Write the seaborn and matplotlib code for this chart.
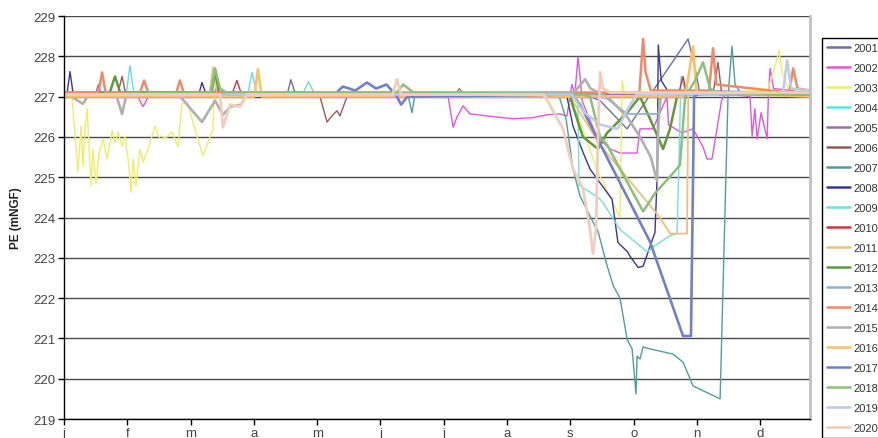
import matplotlib
matplotlib.use("Agg")
import matplotlib.pyplot as plt
import seaborn as sns
import pandas as pd
import numpy as np

sns.set_theme(style="white")
plt.rcParams['font.family'] = ['Liberation Sans', 'DejaVu Sans']

# Water level PE (mNGF) by day of year, one series per year
month_labels = ["j", "f", "m", "a", "m", "j", "j", "a", "s", "o", "n", "d"]
years = [str(y) for y in range(2001, 2021)]

day_2001 = [0, 40, 90, 107.5, 109, 111, 200, 252.8, 257.6, 270.6, 286.4, 299.9, 303.3, 305.7, 330, 358.5]
pe_2001 = [227.10, 227.12, 227.10, 227.10, 227.42, 227.10, 227.05, 227.0, 226.9, 226.2, 227.4, 228.43, 227.7, 227.05, 227.10, 227.08]

day_2002 = [0, 35, 38, 41, 72, 73, 75, 180, 184.6, 187.0, 188.9, 191.8, 195.1, 203.3, 215.8, 225.4, 232.1,
            238.4, 241.7, 244.1, 245.5, 247.0, 248.0, 249.0, 252, 256.2, 262.4, 267.2, 275.4, 276.8, 283,
            289.8, 290.5, 297.0, 302.3, 307.1, 309.0, 311.4, 313.8, 316, 318, 322, 329.7, 330.7, 332,
            333.1, 335, 337.9, 338.5, 339.3, 341, 358.5]
pe_2002 = [227.05, 227.05, 226.75, 227.05, 227.05, 227.2, 227.05, 227.02, 227.0, 226.24, 226.5, 226.77, 226.57,
           226.52, 226.45, 226.48, 226.55, 226.57, 226.52, 227.3, 227.05, 227.98, 227.5, 226.9, 226.5, 226.0,
           225.7, 225.6, 225.6, 226.2, 226.2, 227.0, 226.3, 226.1, 226.2, 225.75, 225.45, 225.45, 226.2,
           226.9, 227.1, 227.05, 227.0, 226.02, 226.7, 225.95, 226.6, 225.95, 227.0, 227.7, 227.2, 227.1]

day_2003 = [0, 3.8, 6.7, 8.2, 9.1, 10.1, 11.1, 13.0, 13.9, 15.4, 16.8, 18.7, 20.7, 23.1, 24.5, 26.0, 27.9,
            29.3, 30.8, 32.2, 33.2, 34.6, 36.5, 38.0, 40.4, 43.7, 46.1, 49.5, 51.9, 53.3, 54.8, 56.7, 59.1,
            61.5, 63.9, 66.8, 69.2, 71.6, 72.1, 74, 240, 246.5, 256, 267.2, 268.2, 269.5, 300, 338, 342,
            343.6, 345, 348, 358.5]
pe_2003 = [227.05, 227.0, 225.13, 226.27, 225.28, 226.2, 226.7, 224.78, 225.7, 224.83, 225.6, 225.95, 225.45,
           226.15, 225.87, 226.12, 225.77, 226.02, 225.45, 224.63, 225.45, 224.78, 225.7, 225.38, 225.7,
           226.27, 225.95, 226.0, 226.12, 225.95, 225.75, 226.82, 226.87, 226.45, 226.02, 225.53, 225.87,
           226.2, 227.0, 227.05, 227.05, 226.6, 225.2, 224.0, 227.4, 227.05, 227.1, 227.15, 227.8, 228.15,
           227.6, 227.2, 227.1]

day_2004 = [0, 30, 31.7, 33.5, 88.5, 90.4, 92.5, 115, 117.5, 120, 358.5]
pe_2004 = [227.08, 227.1, 227.77, 227.1, 227.1, 227.6, 227.1, 227.1, 227.37, 227.1, 227.08]

day_2005 = [0, 15, 16.5, 18, 188, 190, 192, 358.5]
pe_2005 = [227.05, 227.05, 227.3, 227.05, 227.05, 227.2, 227.05, 227.05]

day_2006 = [0, 26, 27.9, 29.5, 122, 123, 126.4, 128.8, 131.2, 132.6, 136, 138, 312, 314.3, 316, 358.5]
pe_2006 = [227.1, 227.1, 227.5, 227.1, 227.05, 227.0, 226.37, 226.52, 226.65, 226.52, 227.0, 227.05, 227.1,
           227.85, 227.1, 227.05]

day_2007 = [0, 160, 165.5, 167.2, 168.5, 238, 241.3, 244.6, 248.0, 255.2, 256.6, 261.0, 264.0, 267.2, 270.6,
            273.0, 274.9, 275.4, 276.8, 278.3, 281.6, 292.7, 297.5, 302.3, 315.3, 319.1, 321.0, 322.5, 325,
            358.5]
pe_2007 = [227.05, 227.05, 227.0, 226.6, 227.0, 227.0, 226.44, 225.2, 224.53, 223.79, 223.66, 222.8, 222.3,
           222.0, 220.98, 220.74, 219.62, 220.56, 220.49, 220.79, 220.74, 220.61, 220.41, 219.82, 219.5,
           227.0, 228.25, 227.3, 227.1, 227.05]

day_2008 = [0, 1.5, 2.9, 4.3, 65, 66.3, 68, 240, 241.7, 244.6, 249.4, 252.8, 263.4, 266.2, 270.6, 272.0,
            275.9, 278.3, 281.6, 284.0, 285.0, 285.6, 287, 290, 358.5]
pe_2008 = [227.1, 227.1, 227.62, 227.1, 227.1, 227.35, 227.1, 227.05, 227.0, 226.27, 225.62, 225.2, 224.45,
           223.38, 223.16, 223.04, 222.76, 222.79, 223.28, 223.63, 224.95, 228.28, 227.4, 227.15, 227.1]

day_2009 = [0, 245, 247, 247.5, 256.6, 258.6, 267.2, 280.2, 284.0, 291.2, 294.6, 295.6, 296.5, 298.5, 358.5]
pe_2009 = [227.05, 227.0, 226.9, 224.8, 224.5, 224.4, 223.7, 223.15, 223.3, 223.55, 223.6, 225.5, 227.5,
           227.15, 227.05]

day_2010 = [0, 81, 83.1, 85, 295.5, 297.5, 299, 358.5]
pe_2010 = [227.1, 227.1, 227.4, 227.1, 227.1, 227.5, 227.1, 227.05]

day_2011 = [0, 70, 71.6, 73.5, 240, 243.2, 257.6, 267.2, 276.8, 286.4, 291.2, 297.0, 299.4, 300.0, 303, 358.5]
pe_2011 = [227.1, 227.1, 227.73, 227.1, 227.05, 227.0, 225.8, 225.2, 224.6, 224.0, 223.6, 223.6, 223.6,
           227.0, 227.1, 227.1]

day_2012 = [0, 22, 24.5, 27, 71, 72.6, 74.5, 240, 243.2, 246.5, 249.4, 256.6, 261.0, 270.6, 276.8, 281.6,
            287.9, 291.2, 294.6, 296, 358.5]
pe_2012 = [227.05, 227.1, 227.5, 227.1, 227.1, 227.65, 227.1, 227.05, 227.0, 226.45, 226.0, 225.7, 226.1,
           226.6, 227.0, 226.45, 225.7, 226.2, 227.0, 227.1, 227.05]

day_2013 = [0, 255, 261, 270.6, 285.5, 286.4, 358.5]
pe_2013 = [227.05, 227.05, 226.95, 226.57, 226.57, 227.05, 227.05]

day_2014 = [0, 16.5, 18.3, 20, 36.5, 38.5, 40.5, 54, 55.7, 57.5, 276.5, 278.3, 279.5, 282, 310, 311.9, 313.5,
            348.5, 350.4, 352.5, 358.5]
pe_2014 = [227.1, 227.1, 227.6, 227.1, 227.1, 227.4, 227.1, 227.1, 227.4, 227.1, 227.1, 228.43, 227.6, 227.15,
           227.15, 228.2, 227.3, 227.1, 227.7, 227.2, 227.15]

day_2015 = [0, 2, 9.1, 12, 25, 27.9, 30, 53.3, 56.7, 66.3, 72.6, 76.4, 80, 85, 88, 245, 250.4, 253, 261,
            270.6, 276.8, 282, 285.0, 285.7, 287, 358.5]
pe_2015 = [227.05, 227.05, 226.82, 227.05, 227.05, 226.57, 227.05, 227.05, 226.95, 226.37, 226.9, 226.55,
           226.75, 226.8, 227.05, 227.1, 227.43, 227.2, 227.0, 226.5, 226.0, 225.5, 224.9, 226.4, 227.1, 227.1]

day_2016 = [0, 91.5, 93.2, 95, 298.5, 300.4, 302.3, 304, 358.5]
pe_2016 = [227.0, 227.0, 227.68, 227.0, 227.0, 227.6, 228.25, 227.1, 227.0]

day_2017 = [0, 130, 134, 140, 145.6, 150, 155, 160, 162, 165, 243.2, 244.6, 248.0, 281.6, 297.5, 301.3,
            302.8, 306, 358.5]
pe_2017 = [227.05, 227.05, 227.25, 227.15, 227.35, 227.2, 227.3, 227.0, 226.8, 227.0, 227.05, 227.0, 226.8,
           223.4, 221.06, 221.06, 227.0, 227.1, 227.05]

day_2018 = [0, 70.5, 72.6, 75, 78, 160, 163, 168, 250, 252.8, 257.6, 261.0, 278.3, 284.0, 292.7, 296.0, 298.5,
            303.3, 307.1, 310.5, 315.3, 358.5]
pe_2018 = [227.05, 227.1, 227.7, 227.2, 227.1, 227.1, 227.3, 227.1, 227.05, 227.0, 226.0, 225.8, 224.15,
           224.6, 225.1, 225.3, 227.0, 227.4, 227.85, 227.2, 227.05, 227.05]

day_2019 = [0, 244, 250, 258, 266, 270, 275, 345.5, 347.5, 349.5, 358.5]
pe_2019 = [227.05, 227.05, 226.6, 226.3, 226.2, 226.6, 227.05, 227.1, 227.9, 227.2, 227.15]

day_2020 = [0, 75, 76.4, 79.8, 84.6, 87.9, 158, 160, 162, 230, 231.2, 239.8, 244.6, 249.4, 252.8, 254.2,
            255.7, 256.6, 257.6, 259.0, 262.4, 358.5]
pe_2020 = [227.05, 227.05, 226.24, 226.8, 226.75, 227.05, 227.05, 227.43, 227.05, 227.05, 227.0, 226.2,
           225.2, 224.72, 223.7, 223.1, 223.72, 226.0, 227.6, 227.2, 227.1, 227.1]

colors = ["#6b6fa8", "#e055e0", "#eeee66", "#66dede", "#9a72a8", "#9a5a5a", "#4f9e9e", "#36369a",
          "#70e0e0", "#d03040", "#eec07a", "#5e9a3a", "#8fb0d0", "#ee8a6a", "#b0b0b0", "#ffc060",
          "#7080cc", "#8cc07a", "#bccbea", "#f0cdbd"]
widths = [1.0, 1.0, 1.0, 1.0, 1.0, 1.0, 1.0, 1.0, 1.0, 1.0, 1.3, 1.8, 1.3, 1.8, 1.9, 1.8, 1.9, 1.8, 1.8, 2.0]

series = [(day_2001, pe_2001), (day_2002, pe_2002), (day_2003, pe_2003), (day_2004, pe_2004),
          (day_2005, pe_2005), (day_2006, pe_2006), (day_2007, pe_2007), (day_2008, pe_2008),
          (day_2009, pe_2009), (day_2010, pe_2010), (day_2011, pe_2011), (day_2012, pe_2012),
          (day_2013, pe_2013), (day_2014, pe_2014), (day_2015, pe_2015), (day_2016, pe_2016),
          (day_2017, pe_2017), (day_2018, pe_2018), (day_2019, pe_2019), (day_2020, pe_2020)]

fig = plt.figure(figsize=(8.79, 4.39), dpi=100)
ax = fig.add_axes([64 / 879, 19 / 439, 746 / 879, 403 / 439])

for year, (d, v), c, w in zip(years, series, colors, widths):
    df = pd.DataFrame({"day": d, "pe": v})
    sns.lineplot(data=df, x="day", y="pe", ax=ax, color=c, lw=w, estimator=None,
                 sort=False, label=year, legend=False)

ax.set_xlim(0, 358.5)
ax.set_ylim(219, 229)
ax.set_yticks(range(219, 230))
ax.set_xticks(np.arange(12) * 365 / 12)
ax.set_xticklabels(month_labels)
ax.yaxis.grid(True, color="#4a4a4a", lw=1.0)
ax.xaxis.grid(False)
ax.set_axisbelow(True)
ax.tick_params(axis="both", direction="out", length=4, width=1, color="black",
               labelsize=9.5, labelcolor="#444444", pad=2, left=True, bottom=True)
ax.set_xlabel("")
ax.set_ylabel("PE (mNGF)", fontsize=8.5, fontweight="bold", color="#222222")
ax.yaxis.set_label_coords(-0.056, 0.5)

for side in ("left", "bottom"):
    ax.spines[side].set_color("black")
    ax.spines[side].set_linewidth(1.0)
ax.spines["top"].set_visible(False)
ax.spines["right"].set_color("#c0c0c0")
ax.spines["right"].set_linewidth(2.0)

handles = [plt.Line2D([], [], color=c, lw=1.8) for c in colors]
leg = fig.legend(handles, years, loc="upper left", bbox_to_anchor=(822 / 879, 1 - 39 / 439),
                 frameon=True, fancybox=False, edgecolor="black", framealpha=1, fontsize=8,
                 labelspacing=0.9, handlelength=2.1, handletextpad=0.3, borderpad=0.45,
                 borderaxespad=0)
leg.get_frame().set_linewidth(1.0)
for t in leg.get_texts():
    t.set_color("#333333")

fig.savefig("out.png", dpi=100)
